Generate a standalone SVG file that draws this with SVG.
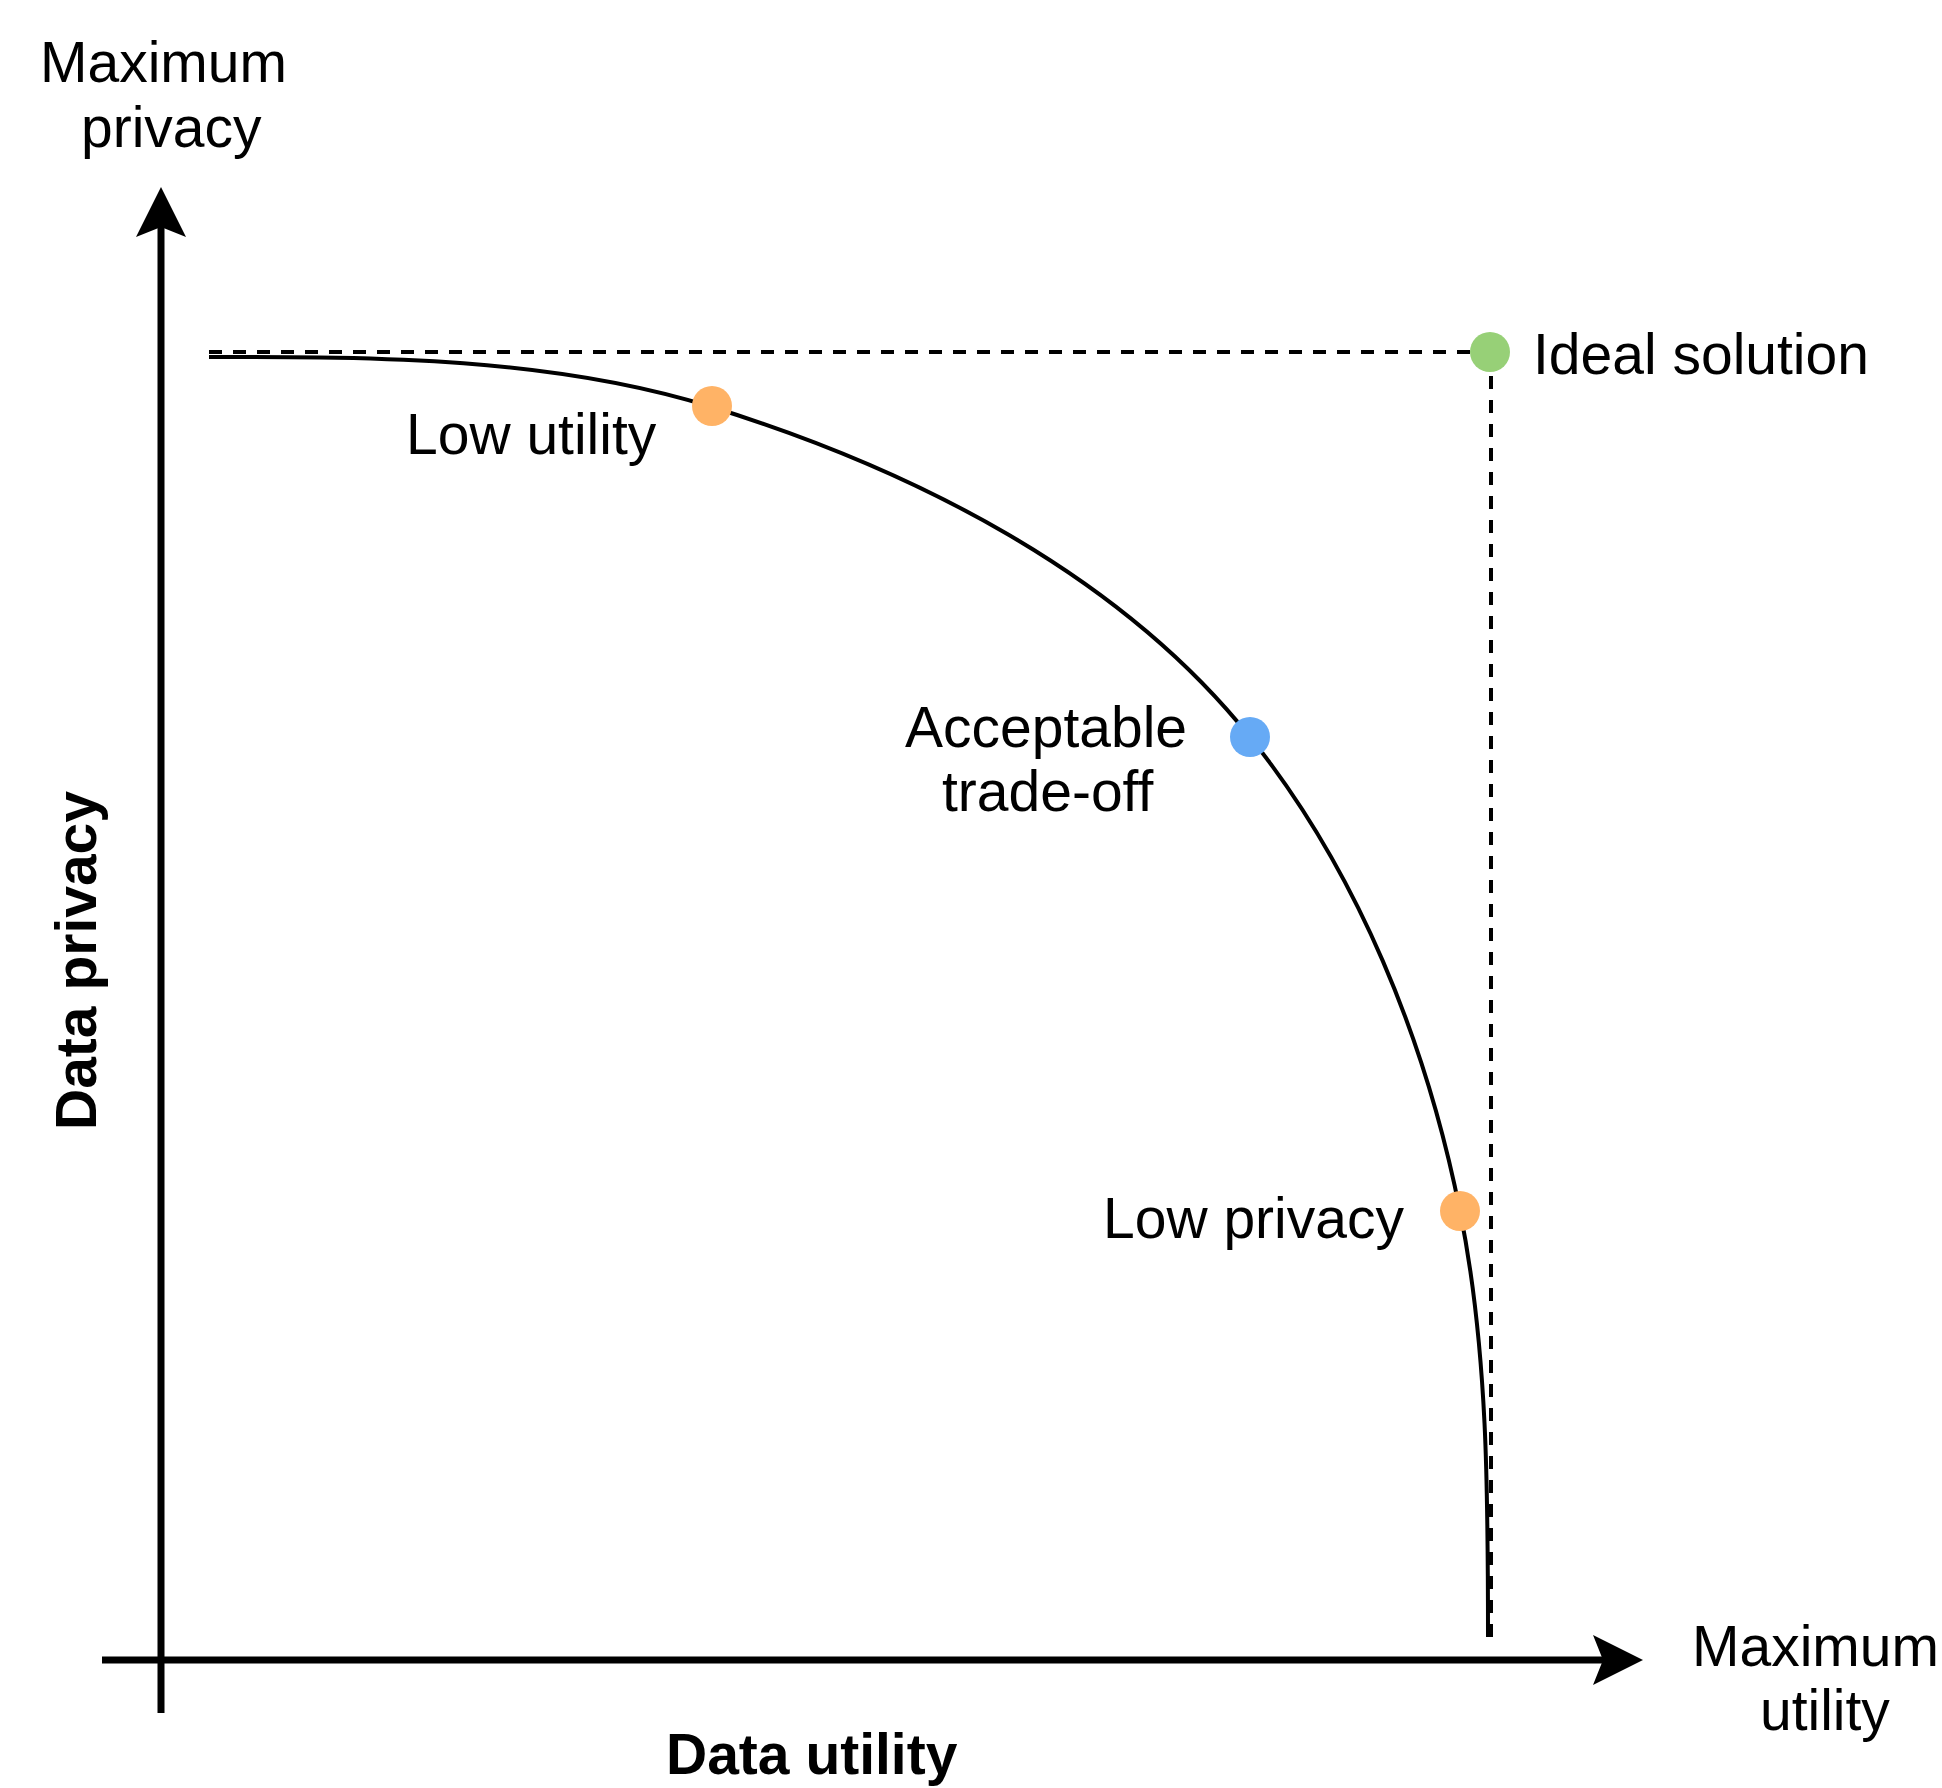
<svg xmlns="http://www.w3.org/2000/svg" width="1942" height="1788" viewBox="0 0 1942 1788">
  <style>
    .lbl { font-family: "Liberation Sans", Arial, sans-serif; font-size: 57px; fill: #000; }
    .bold { font-weight: bold; }
    .axis { stroke: #000; stroke-width: 7; fill: none; }
    .dash { stroke: #000; stroke-width: 4; stroke-dasharray: 13 11; fill: none; }
    .curve { stroke: #000; stroke-width: 4; fill: none; }
  </style>
  <defs>
    <marker id="arr" markerUnits="userSpaceOnUse" markerWidth="50" markerHeight="50" viewBox="0 0 50 50" refX="10" refY="25" orient="auto">
      <path d="M0,0 L50,25 L0,50 L10,25 Z" fill="#000"/>
    </marker>
  </defs>
  <rect width="1942" height="1788" fill="#fff"/>

  <g id="connectors">
    <path id="y-axis" class="axis" d="M161,1713 L161,227" marker-end="url(#arr)"/>
    <path id="x-axis" class="axis" d="M102,1660 L1603,1660" marker-end="url(#arr)"/>
    <path id="dash-h" class="dash" d="M209,352 L1490,352"/>
    <path id="dash-v" class="dash" d="M1491,352 L1491,1637"/>
    <path id="tradeoff-curve" class="curve" d="M209,357 C377,357 552,357 712,407 C912,469 1119,573 1250,737 C1358,872 1426,1041 1460,1211 C1488,1350 1488,1495 1488,1637"/>
  </g>

  <g id="ideal">
    <circle cx="1490" cy="352" r="20" fill="#97D077"/>
    <text class="lbl" x="1533" y="374">Ideal solution</text>
  </g>
  <g id="low-utility">
    <circle cx="712" cy="406" r="20" fill="#FFB366"/>
    <text class="lbl" x="406" y="454">Low utility</text>
  </g>
  <g id="acceptable">
    <circle cx="1250" cy="737" r="20" fill="#66AAF5"/>
    <text class="lbl" x="905" y="747">Acceptable</text>
    <text class="lbl" x="942" y="811">trade-off</text>
  </g>
  <g id="low-privacy">
    <circle cx="1460" cy="1211" r="20" fill="#FFB366"/>
    <text class="lbl" x="1103" y="1238">Low privacy</text>
  </g>

  <g id="max-privacy">
    <text class="lbl" x="40" y="82">Maximum</text>
    <text class="lbl" x="81" y="147">privacy</text>
  </g>
  <g id="max-utility">
    <text class="lbl" x="1692" y="1666">Maximum</text>
    <text class="lbl" x="1760" y="1730">utility</text>
  </g>
  <g id="axis-labels">
    <text class="lbl bold" x="666" y="1774">Data utility</text>
    <text class="lbl bold" transform="translate(96,1130) rotate(-90)">Data privacy</text>
  </g>
</svg>
